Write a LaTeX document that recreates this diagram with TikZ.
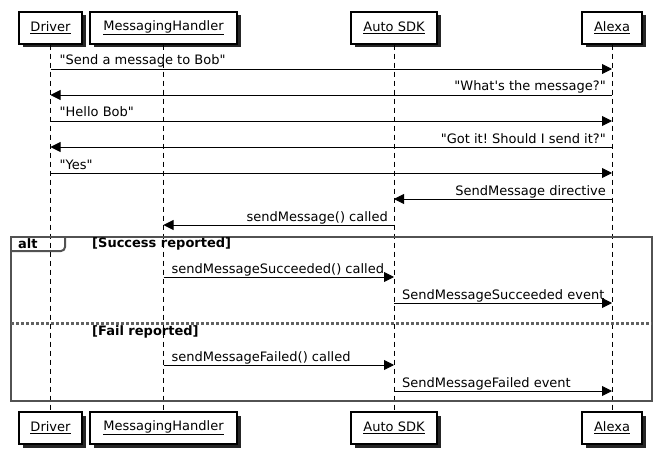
\documentclass[tikz,border=0pt]{standalone}
\usepackage{fontspec}
\setmainfont{DejaVu Sans}[Ligatures=TeXOff]
\usetikzlibrary{arrows.meta,shadows}
\frenchspacing
\begin{document}
\frenchspacing
\begin{tikzpicture}[x=1pt,y=-1pt,
  font=\fontsize{13}{15}\selectfont,
  pbox/.style={draw=black, line width=1.2pt, fill=white, minimum height=32pt,
    minimum width=#1, inner sep=0pt,
    drop shadow={shadow xshift=3.5pt, shadow yshift=-3.5pt, fill=black!85, opacity=1}},
  lifeline/.style={draw=black, line width=0.8pt, dash pattern=on 5pt off 4pt},
  msg/.style={draw=black, line width=0.9pt, -{Triangle[length=10pt,width=10pt]}},
  lblr/.style={anchor=base west, inner sep=0pt, yshift=4pt},
  lbll/.style={anchor=base east, inner sep=0pt, yshift=4pt},
  framebox/.style={draw=black!68, line width=2pt},
  sep/.style={draw=black!62, line width=2.2pt, dash pattern=on 3pt off 2pt},
  guard/.style={anchor=west, inner sep=0pt, font=\fontsize{13}{15}\selectfont\bfseries}
]
\useasboundingbox (0,0) rectangle (662,452);

% participants
\node[pbox=63pt]  (drT) at (50.5,28) {\underline{Driver}};
\node[pbox=147pt] (mhT) at (163.5,28) {\underline{MessagingHandler}};
\node[pbox=86pt]  (asT) at (394,28) {\underline{Auto SDK}};
\node[pbox=60pt]  (alT) at (612,28) {\underline{Alexa}};
\node[pbox=63pt]  (drB) at (50.5,428) {\underline{Driver}};
\node[pbox=147pt] (mhB) at (163.5,428) {\underline{MessagingHandler}};
\node[pbox=86pt]  (asB) at (394,428) {\underline{Auto SDK}};
\node[pbox=60pt]  (alB) at (612,428) {\underline{Alexa}};

% lifelines
\draw[lifeline] (drT.south) -- (drB.north);
\draw[lifeline] (mhT.south) -- (mhB.north);
\draw[lifeline] (asT.south) -- (asB.north);
\draw[lifeline] (alT.south) -- (alB.north);

% rows
\coordinate (r1) at (0,69);
\coordinate (r2) at (0,95);
\coordinate (r3) at (0,121);
\coordinate (r4) at (0,147);
\coordinate (r5) at (0,173);
\coordinate (r6) at (0,199);
\coordinate (r7) at (0,225);
\coordinate (r8) at (0,277);
\coordinate (r9) at (0,303);
\coordinate (r10) at (0,365);
\coordinate (r11) at (0,391);

% messages
\draw[msg] (drT |- r1) -- (alT |- r1);
\node[lblr] (t1) at ([xshift=9pt]drT |- r1) {"Send a message to Bob"};
\draw[msg] (alT |- r2) -- (drT |- r2);
\node[lbll] (t2) at ([xshift=-6pt]alT |- r2) {"What's the message?"};
\draw[msg] (drT |- r3) -- (alT |- r3);
\node[lblr] (t3) at ([xshift=9pt]drT |- r3) {"Hello Bob"};
\draw[msg] (alT |- r4) -- (drT |- r4);
\node[lbll] (t4) at ([xshift=-6pt]alT |- r4) {"Got it! Should I send it?"};
\draw[msg] (drT |- r5) -- (alT |- r5);
\node[lblr] (t5) at ([xshift=9pt]drT |- r5) {"Yes"};
\draw[msg] (alT |- r6) -- (asT |- r6);
\node[lbll] (t6) at ([xshift=-6pt]alT |- r6) {SendMessage directive};
\draw[msg] (asT |- r7) -- (mhT |- r7);
\node[lbll] (t7) at ([xshift=-6pt]asT |- r7) {sendMessage() called};

% alt frame
\draw[framebox] (11,236.5) rectangle (652,401);
\draw[framebox, rounded corners=4pt] (65,236.5) -- (65,251) -- (11,251);
\node[guard] (altlbl) at (18,243.5) {alt};
\node[guard] (g1) at (92,243.5) {[Success reported]};
\draw[sep] (11,323.5) -- (652,323.5);
\node[guard] (g2) at (92,331.5) {[Fail reported]};

\draw[msg] (mhT |- r8) -- (asT |- r8);
\node[lblr] (t8) at ([xshift=8pt]mhT |- r8) {sendMessageSucceeded() called};
\draw[msg] (asT |- r9) -- (alT |- r9);
\node[lblr] (t9) at ([xshift=8pt]asT |- r9) {SendMessageSucceeded event};
\draw[msg] (mhT |- r10) -- (asT |- r10);
\node[lblr] (t10) at ([xshift=8pt]mhT |- r10) {sendMessageFailed() called};
\draw[msg] (asT |- r11) -- (alT |- r11);
\node[lblr] (t11) at ([xshift=8pt]asT |- r11) {SendMessageFailed event};
\end{tikzpicture}
\end{document}
